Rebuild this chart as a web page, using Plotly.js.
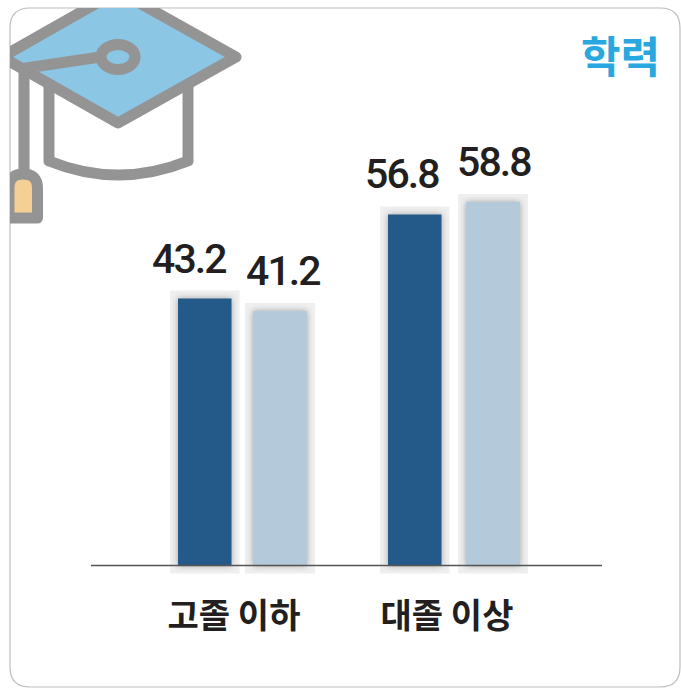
<!DOCTYPE html>
<html><head><meta charset="utf-8">
<script src="https://cdn.plot.ly/plotly-3.0.1.min.js"></script>
<style>html,body{margin:0;padding:0;background:#fff}
.annotation-text{letter-spacing:-1.9px}</style></head>
<body><div id="chart" style="width:681px;height:688px"></div>
<script>
const categories = ['고졸 이하', '대졸 이상'];
const darkValues = [43.2, 56.8];
const lightValues = [41.2, 58.8];
const chartTitle = '학력';

const W = 681, H = 688;
const L = 91, R = 79, T = 10, B = 98;
const plotW = W - L - R, plotH = H - T - B;
const zeroPx = 565.5, unit = 6.18;
const yRange = [-(H - B - zeroPx) / unit, (zeroPx - T) / unit];
const catPx = 213;
const xRange = [(91 - 234) / catPx, 1 + (602 - 447) / catPx];
const darkOffset = [-56 / catPx, -59 / catPx], darkWidth = 53.5 / catPx;
const lightOffset = [19 / catPx, 19 / catPx], lightWidth = 54 / catPx;
const haloPad = 8 / catPx, haloUnits = 8 / unit;
const labelShift = { dark: [-16, -13], light: [3, 1] };
const px = x => (x - L) / plotW, py = y => 1 - (y - T) / plotH;

const iconSvg = `<svg xmlns="http://www.w3.org/2000/svg" width="681" height="688" viewBox="0 0 681 688">
<defs><clipPath id="c"><path d="M10 28 Q10 8 30 8 H681 V688 H10 Z"/></clipPath></defs>
<g clip-path="url(#c)" stroke="#949494" stroke-width="11" stroke-linejoin="round" stroke-linecap="round">
<path d="M49 85 V161 Q118 189 188 161 V85" fill="#fff"/>
<path d="M24 70 V175" fill="none"/>
<path d="M118 -9 L236 57 L118 123 L2 57 Z" fill="#8bc6e5"/>
<path d="M26 68 L100 57" fill="none"/>
<ellipse cx="118" cy="57" rx="17" ry="12.5" fill="#8bc6e5"/>
<path d="M9 218 V188 Q9 174 23 174 Q37.5 174 37.5 188 V218 Z" fill="#f5d095"/>
</g></svg>`;

function halo(i, off, w, v) {
  return { type: 'rect', layer: 'below', xref: 'x', yref: 'y',
    x0: i + off - haloPad, x1: i + off + w + haloPad,
    y0: -haloUnits, y1: v + haloUnits,
    fillcolor: '#efefef', line: { width: 0 } };
}
const shapes = [
  { type: 'path', layer: 'below', xref: 'paper', yref: 'paper',
    path: `M ${px(10)} ${py(28)} Q ${px(10)} ${py(8)} ${px(30)} ${py(8)} L ${px(660)} ${py(8)} Q ${px(680)} ${py(8)} ${px(680)} ${py(28)} L ${px(680)} ${py(667)} Q ${px(680)} ${py(687)} ${px(660)} ${py(687)} L ${px(30)} ${py(687)} Q ${px(10)} ${py(687)} ${px(10)} ${py(667)} Z`,
    fillcolor: '#fff', line: { color: '#bdbdbd', width: 1.2 } }
];
darkValues.forEach((v, i) => shapes.push(halo(i, darkOffset[i], darkWidth, v)));
lightValues.forEach((v, i) => shapes.push(halo(i, lightOffset[i], lightWidth, v)));
shapes.push({ type: 'line', layer: 'above', xref: 'paper', yref: 'y', x0: 0, x1: 1, y0: 0, y1: 0,
  line: { color: '#555', width: 1.4 } });

const labelFont = { family: 'Roboto, sans-serif', size: 41, color: '#231f20', weight: 500 };
function labels(vals, off, w, shifts) {
  return vals.map((v, i) => ({ xref: 'x', yref: 'y', x: i + off[i] + w / 2, y: v,
    text: v.toFixed(1), showarrow: false, yanchor: 'bottom', xshift: shifts[i], yshift: 14, font: labelFont }));
}

Plotly.newPlot('chart', [
  { type: 'bar', x: categories, y: darkValues, width: darkWidth, offset: darkOffset,
    marker: { color: '#235a8a', line: { width: 0 } }, hoverinfo: 'skip' },
  { type: 'bar', x: categories, y: lightValues, width: lightWidth, offset: lightOffset,
    marker: { color: '#b4c9da', line: { width: 0 } }, hoverinfo: 'skip' }
], {
  width: W, height: H, showlegend: false, barmode: 'overlay',
  margin: { l: L, r: R, t: T, b: B, pad: 0 },
  paper_bgcolor: '#fff', plot_bgcolor: 'rgba(0,0,0,0)',
  title: { text: chartTitle, x: 660 / W, xanchor: 'right', xref: 'container', y: 1 - 58 / H, yanchor: 'middle',
    font: { family: '"Noto Sans CJK KR", sans-serif', size: 43, weight: 700, color: '#29a8e0' } },
  xaxis: { type: 'category', range: xRange, showgrid: false, zeroline: false, showline: false, ticks: '',
    tickfont: { family: '"Noto Sans CJK KR", sans-serif', size: 34, weight: 700, color: '#231f20' },
    ticklabelstandoff: 3 },
  yaxis: { range: yRange, showgrid: false, zeroline: false, showline: false, showticklabels: false, ticks: '' },
  shapes,
  images: [{ source: 'data:image/svg+xml;charset=utf-8,' + encodeURIComponent(iconSvg), xref: 'paper', yref: 'paper',
    x: px(0), y: py(0), sizex: W / plotW, sizey: H / plotH, sizing: 'stretch', xanchor: 'left', yanchor: 'top', layer: 'above' }],
  annotations: labels(darkValues, darkOffset, darkWidth, labelShift.dark)
    .concat(labels(lightValues, lightOffset, lightWidth, labelShift.light))
}, { staticPlot: true }).then(() => {
  document.querySelectorAll('.barlayer .point path').forEach(p => {
    p.style.filter = 'drop-shadow(0 0 3px rgba(0,0,0,0.32))';
  });
});
</script></body></html>
